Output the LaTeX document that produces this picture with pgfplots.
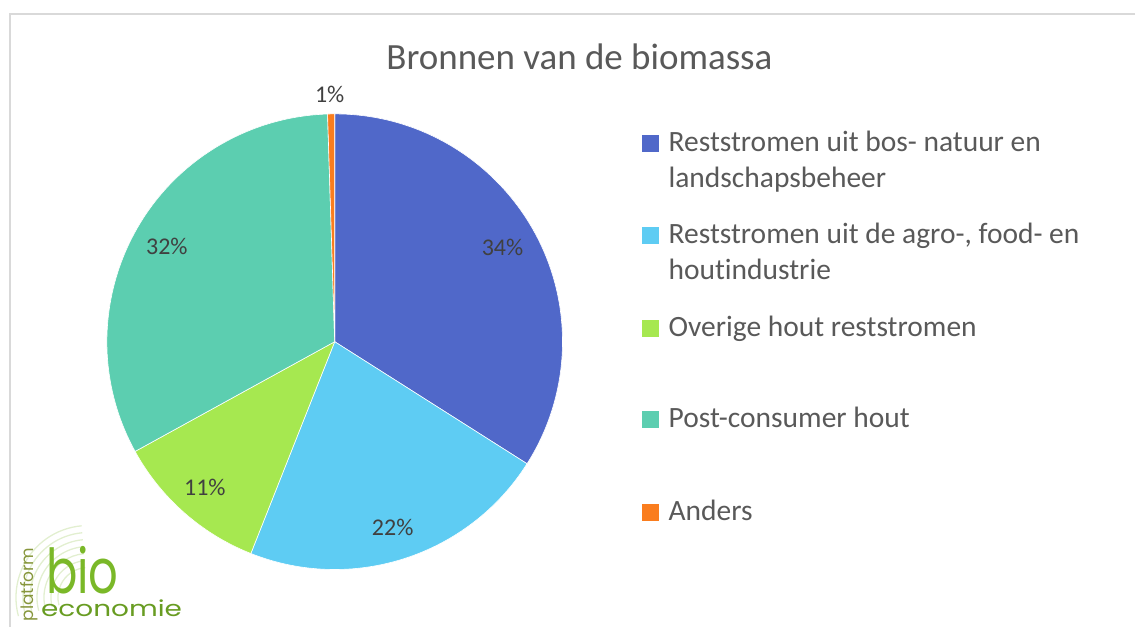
\documentclass[border=0pt]{standalone}
\usepackage{graphicx}
\usepackage{pgfplots}
\pgfplotsset{compat=1.18}
\usepackage{pgfplotstable}
\usepackage{fontspec}
\setmainfont{Carlito}[Ligatures={TeX,NoCommon}]
\newfontfamily\logofont{Poppins}
\definecolor{c0}{RGB}{80,104,201}
\definecolor{c1}{RGB}{94,204,243}
\definecolor{c2}{RGB}{166,232,80}
\definecolor{c3}{RGB}{92,206,176}
\definecolor{c4}{RGB}{250,125,30}
\definecolor{txt}{RGB}{89,89,89}
\definecolor{lbl}{RGB}{64,64,64}
\definecolor{frame}{RGB}{217,217,217}
\definecolor{logogreen}{RGB}{122,184,40}
\definecolor{logoolive}{RGB}{135,150,60}
\pgfplotstableread{
label value
A 34.0
B 22.0
C 11.0
D 32.5
E 0.5
}\piedata
\begin{document}
\begin{tikzpicture}
\begin{axis}[
  at={(0,0)}, anchor=origin,
  width=1136pt, height=628pt, scale only axis,
  xmin=0, xmax=1136, ymin=0, ymax=628,
  hide axis, clip=false]
\path (axis cs:0,0) rectangle (axis cs:1136,628);
% frame
\draw[frame, line width=2pt] (axis cs:1136,614) -- (axis cs:10,614) -- (axis cs:10,0);
% pie
\def\cum{0}
\pgfplotsforeachungrouped \i in {0,...,4}{%
  \pgfplotstablegetelem{\i}{value}\of\piedata
  \let\v\pgfplotsretval
  \pgfmathsetmacro\aS{90-3.6*\cum}%
  \pgfmathsetmacro\aE{90-3.6*(\cum+\v)}%
  \pgfmathsetmacro\cum{\cum+\v}%
  \edef\temp{\noexpand\fill[c\i, draw=white, line width=0.6pt] (axis cs:335,286) -- ++(\aS:228pt) arc[start angle=\aS, end angle=\aE, radius=228pt] -- cycle;}%
  \temp
}
% data labels
\begin{scope}[every node/.style={font=\fontsize{24}{28}\selectfont, text=lbl}]
\node at (axis cs:503,380) {34\%};
\node at (axis cs:393,100) {22\%};
\node at (axis cs:205,140) {11\%};
\node at (axis cs:167,381) {32\%};
\node at (axis cs:330,533) {1\%};
\end{scope}
% title
\node[font=\fontsize{37}{44}\selectfont, text=txt, anchor=base, inner sep=0pt] at (axis cs:580,558) {Bronnen van de biomassa};
% legend
\begin{scope}[every node/.style={font=\fontsize{29.5}{36}\selectfont, text=txt, anchor=base west, inner sep=0pt}]
\fill[c0] (axis cs:643,476) rectangle (axis cs:660,493);
\node at (axis cs:669,476) {Reststromen uit bos- natuur en};
\node at (axis cs:669,440) {landschapsbeheer};
\fill[c1] (axis cs:643,384) rectangle (axis cs:660,401);
\node at (axis cs:669,384) {Reststromen uit de agro-, food- en};
\node at (axis cs:669,348) {houtindustrie};
\fill[c2] (axis cs:643,291) rectangle (axis cs:660,308);
\node at (axis cs:669,291) {Overige hout reststromen};
\fill[c3] (axis cs:643,200) rectangle (axis cs:660,217);
\node at (axis cs:669,200) {Post-consumer hout};
\fill[c4] (axis cs:643,107) rectangle (axis cs:660,124);
\node at (axis cs:669,107) {Anders};
\end{scope}
% logo
\pgfplotsinvokeforeach{30,37,44,51,58,65,72}{
  \draw[logogreen!22, line width=1.3pt] (axis cs:88,30) ++(95:#1pt) arc[start angle=95, end angle=195, radius=#1pt];
}
\node[anchor=south west, inner sep=0pt, align=left, font=\logofont\fontsize{20}{23}\selectfont] at (axis cs:41,11)
  {\hspace*{5pt}{\fontsize{62}{23}\selectfont\color{logogreen}\scalebox{0.75}[1]{bio}}\\
   {\fontsize{22}{23}\selectfont\color{logogreen!85!black}\scalebox{1.27}[1]{economie}}};
\node[font=\logofont\fontsize{17}{17}\selectfont, text=logoolive, rotate=90, anchor=base west, inner sep=0pt] at (axis cs:34,6) {platform};
\end{axis}
\end{tikzpicture}
\end{document}
